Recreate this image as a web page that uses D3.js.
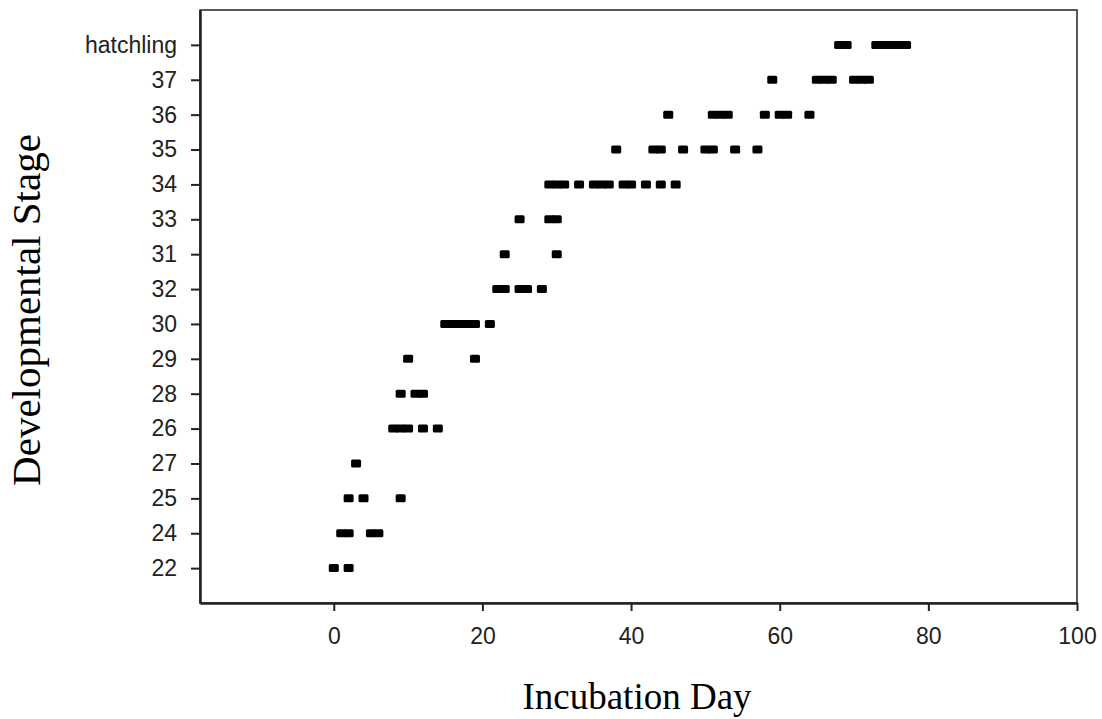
<!DOCTYPE html>
<html lang="en">
<meta charset="utf-8">
<style>
body { margin: 0; background: #fff; }
.tick text { font-family: "Liberation Sans", Arial, sans-serif; font-size: 23px; fill: #222; }
.tick line { stroke: #222; stroke-width: 2px; }
.axis-title { font-family: "Liberation Serif", "Times New Roman", serif; fill: #000; }
.frame { fill: none; stroke: #222; stroke-width: 1.5px; }
.mark { fill: #000; }
</style>
<body>
<script src="https://d3js.org/d3.v7.min.js"></script>
<script>

// stage categories, top to bottom as on the y axis
var stages = ["hatchling", "37", "36", "35", "34", "33", "31", "32", "30", "29", "28", "26", "27", "25", "24", "22"];

// incubation days on which each stage was observed
var daysHatchling = [68, 69, 73, 74, 75, 76, 77];
var days37 = [59, 65, 66, 67, 70, 71, 72];
var days36 = [45, 51, 52, 53, 58, 60, 61, 64];
var days35 = [38, 43, 44, 47, 50, 51, 54, 57];
var days34 = [29, 30, 31, 33, 35, 36, 37, 39, 40, 42, 44, 46];
var days33 = [25, 29, 30];
var days31 = [23, 30];
var days32 = [22, 23, 25, 26, 28];
var days30 = [15, 16, 17, 18, 19, 21];
var days29 = [10, 19];
var days28 = [9, 11, 12];
var days26 = [8, 9, 10, 12, 14];
var days27 = [3];
var days25 = [2, 4, 9];
var days24 = [1, 2, 5, 6];
var days22 = [0, 2];

var xTicks = [0, 20, 40, 60, 80, 100];

var daysByStage = [daysHatchling, days37, days36, days35, days34, days33, days31, days32,
                   days30, days29, days28, days26, days27, days25, days24, days22];

var points = [];
stages.forEach(function(s, i) {
  daysByStage[i].forEach(function(d) { points.push({stage: s, day: d}); });
});

var margin = {top: 10, right: 25, bottom: 116, left: 200},
    width = 1102 - margin.left - margin.right,
    height = 719 - margin.top - margin.bottom;

var x = d3.scaleLinear().domain([-18, 100]).range([0, width]);
var y = d3.scalePoint().domain(stages).range([0, height]).padding(1);

var svg = d3.select("body").append("svg")
    .attr("width", 1102)
    .attr("height", 719)
  .append("g")
    .attr("transform", "translate(" + margin.left + "," + margin.top + ")");

// plot frame
svg.append("rect")
    .attr("class", "frame")
    .attr("x", 0).attr("y", 0)
    .attr("width", width).attr("height", height);

// markers
svg.selectAll(".mark")
    .data(points)
  .enter().append("rect")
    .attr("class", "mark")
    .attr("x", function(d) { return x(d.day) - 5; })
    .attr("y", function(d) { return y(d.stage) - 4; })
    .attr("width", 10)
    .attr("height", 8)
    .attr("rx", 1.5);

var xAxis = svg.append("g")
    .attr("transform", "translate(0," + height + ")")
    .call(d3.axisBottom(x).tickValues(xTicks).tickSize(8).tickSizeOuter(0).tickPadding(17));
xAxis.select(".domain").attr("stroke", "#222").attr("stroke-width", 2.5);

var yAxis = svg.append("g")
    .call(d3.axisLeft(y).tickSize(9).tickSizeOuter(0).tickPadding(14));
yAxis.select(".domain").attr("stroke", "#222").attr("stroke-width", 2.5);

svg.append("text")
    .attr("class", "axis-title")
    .attr("x", 437)
    .attr("y", height + 106)
    .attr("text-anchor", "middle")
    .style("font-size", "37px")
    .text("Incubation Day");

svg.append("text")
    .attr("class", "axis-title")
    .attr("transform", "rotate(-90)")
    .attr("x", -300)
    .attr("y", -160)
    .attr("text-anchor", "middle")
    .style("font-size", "41px")
    .text("Developmental Stage");

</script>
</body>
</html>
